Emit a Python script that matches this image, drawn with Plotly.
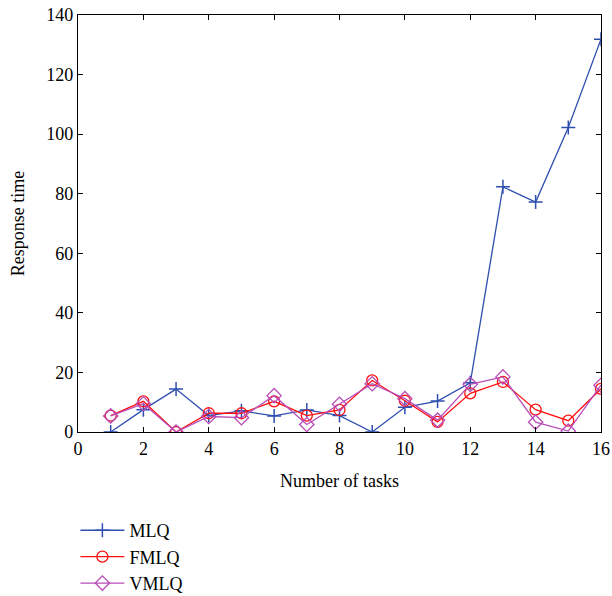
import plotly.graph_objects as go

tasks = list(range(1, 17))
mlq = [0, 7.5, 14.4, 5.5, 7.1, 5.4, 7.4, 5.5, 0, 8.3, 10.4, 16.5, 82.3, 77.2, 102.2, 131.9]
fmlq = [5.5, 10.3, 0, 6.3, 6.3, 10.3, 5.5, 7.4, 17.3, 10.5, 3.4, 13.0, 16.8, 7.5, 3.8, 14.5]
vmlq = [5.4, 9.5, 0, 5.2, 4.8, 12.2, 2.5, 9.3, 16.2, 11.2, 4.0, 16.0, 18.5, 3.3, 0.3, 15.7]

x_ticks = list(range(0, 17, 2))
y_ticks = list(range(0, 141, 20))

font_fam = "Liberation Serif, DejaVu Serif, serif"

fig = go.Figure()
fig.add_trace(go.Scatter(x=tasks, y=mlq, name="MLQ", mode="lines+markers",
                         line=dict(color="#2f4fb0", width=1.3),
                         marker=dict(symbol="cross-thin", size=10, line=dict(color="#2f4fb0", width=1.5))))
fig.add_trace(go.Scatter(x=tasks, y=fmlq, name="FMLQ", mode="lines+markers",
                         line=dict(color="#ff1010", width=1.3),
                         marker=dict(symbol="circle-open", size=11, color="#ff1010", line=dict(width=1.3))))
fig.add_trace(go.Scatter(x=tasks, y=vmlq, name="VMLQ", mode="lines+markers",
                         line=dict(color="#b84cb8", width=1.3),
                         marker=dict(symbol="diamond-open", size=11, color="#b84cb8", line=dict(width=1.3))))

axis_common = dict(showgrid=False, zeroline=False, showline=True, linecolor="black", linewidth=1.3,
                   mirror="ticks", ticks="inside", ticklen=5, tickcolor="black",
                   tickfont=dict(family=font_fam, size=18, color="black"))

fig.update_xaxes(range=[0, 16], tickvals=x_ticks, automargin=False,
                 title=dict(text="Number of tasks", font=dict(family=font_fam, size=18, color="black"), standoff=16),
                 **axis_common)
fig.update_yaxes(range=[0, 140], tickvals=y_ticks, automargin=False,
                 title=dict(text="Response time", font=dict(family=font_fam, size=18, color="black"), standoff=16),
                 **axis_common)

fig.update_layout(
    width=612, height=596,
    margin=dict(l=78, r=11, t=15, b=164, autoexpand=False),
    plot_bgcolor="white", paper_bgcolor="white",
    font=dict(family=font_fam, size=18, color="black"),
    legend=dict(orientation="v", x=-0.005, xanchor="left", y=-0.192, yanchor="top",
                font=dict(family=font_fam, size=18, color="black"),
                bgcolor="rgba(0,0,0,0)", tracegroupgap=0, itemwidth=44),
)

fig.write_html("out.html")
